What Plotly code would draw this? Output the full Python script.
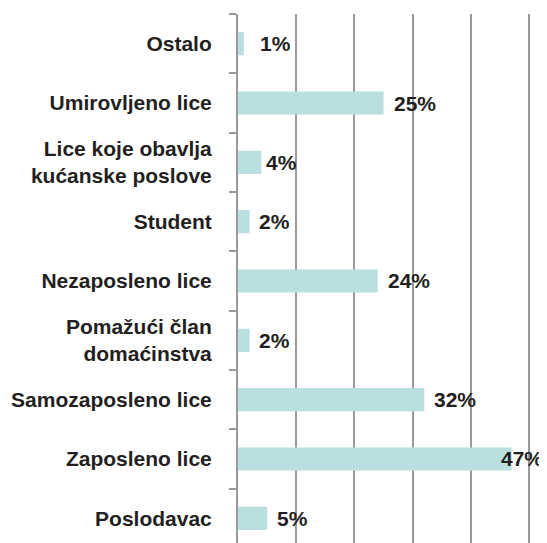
import plotly.graph_objects as go

# Data (bottom to top)
categories = ["Poslodavac", "Zaposleno lice", "Samozaposleno lice",
              "Pomažući član<br>domaćinstva", "Nezaposleno lice", "Student",
              "Lice koje obavlja<br>kućanske poslove", "Umirovljeno lice", "Ostalo"]
values = [5, 47, 32, 2, 24, 2, 4, 25, 1]
value_labels = ["5%", "47%", "32%", "2%", "24%", "2%", "4%", "25%", "1%"]
label_shift = [8, -13, 8, 7, 8, 7, 3, 8, 14]

GRAY = "#9a9a9a"
TEXT = "#231f20"
FONT = "Liberation Sans, Arial, sans-serif"

fig = go.Figure()
fig.add_trace(go.Bar(
    y=categories, x=values, orientation="h",
    marker=dict(color="#b9dfe0", line=dict(width=0)),
    width=0.39, hoverinfo="skip",
))

for c, v, t, s in zip(categories, values, value_labels, label_shift):
    fig.add_annotation(x=v, y=c, text="<b>" + t + "</b>", showarrow=False,
                       xanchor="left", yanchor="middle", xshift=s,
                       font=dict(family=FONT, size=21, color=TEXT))

fig.update_layout(
    width=539, height=535,
    margin=dict(l=230, r=15, t=6, b=0),
    plot_bgcolor="white", paper_bgcolor="white",
    showlegend=False,
    font=dict(family=FONT, size=21, color=TEXT),
)
fig.update_xaxes(range=[0, 50.5], tickvals=[10, 20, 30, 40, 50], showgrid=True,
                 gridcolor=GRAY, gridwidth=2, showticklabels=False, zeroline=False,
                 showline=False, fixedrange=True)
fig.update_yaxes(type="category", categoryorder="array", categoryarray=categories,
                 range=[-0.416, 8.5], showgrid=False, showline=True,
                 linecolor=GRAY, linewidth=2, ticks="outside", ticklen=7,
                 tickwidth=2, tickcolor=GRAY, tickson="boundaries",
                 ticklabelstandoff=20,
                 tickfont=dict(family=FONT, size=21, color=TEXT),
                 tickvals=categories,
                 ticktext=["<b>" + c.replace("<br>", "</b><br><b>") + "</b>" for c in categories],
                 fixedrange=True)

fig.write_html("out.html")
